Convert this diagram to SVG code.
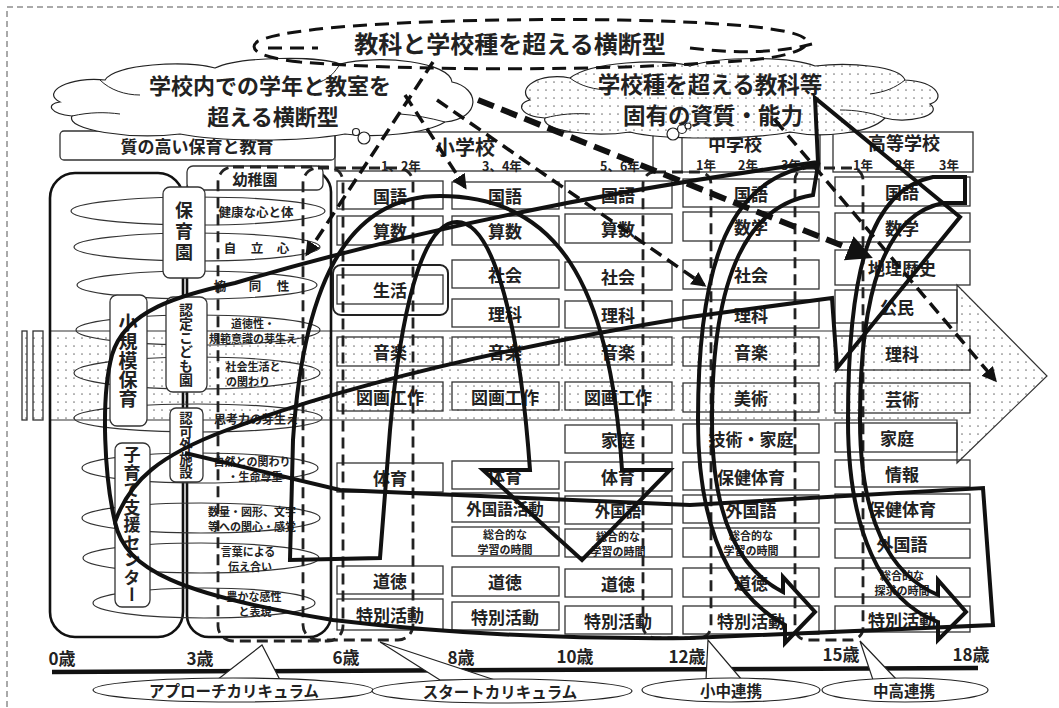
<svg xmlns="http://www.w3.org/2000/svg" width="1059" height="708" viewBox="0 0 1059 708">
<defs>
<pattern id="dots" width="8" height="8" patternUnits="userSpaceOnUse"><rect width="8" height="8" fill="#fff"/><circle cx="2" cy="2" r="0.85" fill="#777"/></pattern>
<marker id="ah" viewBox="0 0 10 10" refX="8" refY="5" markerWidth="15" markerHeight="15" markerUnits="userSpaceOnUse" orient="auto"><path d="M0,0 L10,5 L0,10 z" fill="#111"/></marker>
<marker id="ahB" viewBox="0 0 10 10" refX="8" refY="5" markerWidth="26" markerHeight="26" markerUnits="userSpaceOnUse" orient="auto"><path d="M0,0 L10,5 L0,10 z" fill="#111"/></marker>
<style>
.t{font-family:"Noto Sans CJK JP","Noto Sans",sans-serif;font-weight:700;fill:#222;text-anchor:middle;dominant-baseline:central}
.v{font-family:"Noto Sans CJK JP","Noto Sans",sans-serif;font-weight:700;fill:#222;text-anchor:middle;writing-mode:vertical-rl}
.box{fill:none;stroke:#333;stroke-width:1.3}
.lbl{fill:#fff;stroke:#333;stroke-width:1.3}
.ell{fill:none;stroke:#333;stroke-width:1.2}
.thick{fill:none;stroke:#111;stroke-width:4;stroke-linejoin:miter}
.dash{fill:none;stroke:#111;stroke-width:3.5;stroke-dasharray:13 7}
.dbox{fill:none;stroke:#222;stroke-width:2.8;stroke-dasharray:11 6}
.thin{fill:#fff;stroke:#222;stroke-width:1.2}
.s17{font-size:17px}.s16{font-size:15.5px}.s12{font-size:12px}.s11{font-size:11px}.s13{font-size:12.5px}
.cl{font-size:22px}
</style>
</defs>
<rect width="1059" height="708" fill="#fff"/>
<rect x="7" y="7" width="1060" height="710" fill="none" stroke="#555" stroke-width="1" stroke-dasharray="6 4"/>

<g id="band">
<path d="M50,331 L957,331 L957,285 L1047,376 L957,463 L957,420 L50,420 Z" fill="url(#dots)" stroke="#333" stroke-width="1.2"/>
<rect x="22" y="331" width="5" height="89" fill="url(#dots)" stroke="#333" stroke-width="1.3"/>
<rect x="33" y="331" width="10" height="89" fill="url(#dots)" stroke="#333" stroke-width="1.3"/>
</g>

<g id="header-boxes">
<rect x="60" y="131" width="275" height="29" rx="4" class="box"/>
<text x="197" y="145" class="t s17">質の高い保育と教育</text>
<rect x="335" y="132" width="318" height="39" class="box"/>
<text x="465" y="146" class="t" style="font-size:20px">小学校</text>
<text x="401" y="165" class="t s13">1、2年</text>
<text x="502" y="165" class="t s13">3、4年</text>
<text x="620" y="165" class="t s13">5、6年</text>
<rect x="682" y="132" width="138" height="40" class="box"/>
<text x="735" y="143" class="t" style="font-size:18px">中学校</text>
<text x="706" y="164" class="t s13">1年</text>
<text x="748" y="164" class="t s13">2年</text>
<text x="791" y="164" class="t s13">3年</text>
<rect x="833" y="132" width="140" height="40" class="box"/>
<text x="904" y="142" class="t" style="font-size:18px">高等学校</text>
<text x="863" y="164" class="t s13">1年</text>
<text x="905" y="164" class="t s13">2年</text>
<text x="949" y="164" class="t s13">3年</text>
</g>

<g id="cloud-left">
<path d="M60,102 C40,92 70,76 105,80 C115,64 185,60 215,68 C240,56 320,56 340,64 C380,54 450,62 452,82 C480,88 482,118 445,122 C425,134 375,138 345,134 C300,142 220,142 180,134 C130,140 65,130 72,116 C50,114 45,104 60,102 Z" class="thin"/>
<path d="M100,80 C110,90 125,95 140,95 M340,64 C335,72 330,78 320,82 M445,122 C430,118 415,115 400,114 M72,116 C90,112 105,112 120,114" fill="none" stroke="#222" stroke-width="1"/>
<circle cx="356" cy="132" r="3.5" class="thin"/>
<circle cx="364" cy="138" r="6" class="thin"/>
<text x="270" y="84" class="t cl">学校内での学年と教室を</text>
<text x="273" y="115" class="t cl">超える横断型</text>
</g>

<g id="cloud-right">
<path d="M530,100 C515,88 540,72 570,78 C590,62 660,58 690,66 C720,56 790,56 815,66 C850,62 900,66 905,80 C940,82 945,100 930,104 C945,116 905,124 885,118 C870,134 820,138 790,132 C750,140 660,140 630,132 C590,138 540,130 545,118 C520,116 515,104 530,100 Z" fill="url(#dots)" stroke="#222" stroke-width="1.2"/>
<path d="M570,78 C580,86 595,90 610,90 M905,80 C895,88 885,92 870,94 M545,118 C560,114 575,113 590,114 M885,118 C870,112 855,110 840,110" fill="none" stroke="#222" stroke-width="1"/>
<circle cx="673" cy="134" r="6" class="thin"/>
<circle cx="682" cy="129" r="4.5" class="thin"/>
<circle cx="688" cy="126" r="3" class="thin"/>
<text x="710" y="83" class="t" style="font-size:22.5px">学校種を超える教科等</text>
<text x="713" y="114" class="t" style="font-size:22.5px">固有の資質・能力</text>
</g>

<g id="cloud-top">
<path d="M300,62 C262,58 246,50 258,41 C300,22 500,18 620,20 C720,22 800,28 806,40 C812,50 780,60 720,62 C620,70 420,72 300,62" fill="none" stroke="#111" stroke-width="3" stroke-dasharray="14 8"/>
<path d="M268,48 L318,48 M690,48 C730,53 775,54 812,44" fill="none" stroke="#111" stroke-width="3" stroke-dasharray="14 8"/>
<text x="510" y="42" class="t" style="font-size:24px">教科と学校種を超える横断型</text>
</g>

<g id="early-childhood">
<rect x="50" y="173" width="133" height="464" rx="25" fill="none" stroke="#111" stroke-width="2.6"/>
<rect x="187" y="170" width="144" height="467" rx="22" fill="none" stroke="#111" stroke-width="2.6"/>
<ellipse cx="198" cy="211" rx="127" ry="14" class="ell"/>
<ellipse cx="197" cy="247" rx="123" ry="14" class="ell"/>
<ellipse cx="197" cy="285" rx="120" ry="14" class="ell"/>
<ellipse cx="198" cy="330" rx="122" ry="15" class="ell"/>
<ellipse cx="197" cy="373" rx="123" ry="16" class="ell"/>
<ellipse cx="198" cy="418" rx="124" ry="14" class="ell"/>
<ellipse cx="200" cy="468" rx="118" ry="15" class="ell"/>
<ellipse cx="201" cy="518" rx="119" ry="15" class="ell"/>
<ellipse cx="201" cy="558" rx="118" ry="15" class="ell"/>
<ellipse cx="204" cy="603" rx="111" ry="15" class="ell"/>
<text x="256" y="211" class="t" style="font-size:12.5px">健康な心と体</text>
<text x="230 257 283" y="247" class="t" style="font-size:12.5px">自立心</text>
<text x="220 255 283" y="285" class="t" style="font-size:12.5px">協同性</text>
<text x="253" y="323" class="t s11">道徳性・</text>
<text x="253" y="338" class="t s11">規範意識の芽生え</text>
<text x="253" y="366" class="t s11">社会生活と</text>
<text x="248" y="381" class="t s11">の関わり</text>
<text x="256" y="418" class="t s12">思考力の芽生え</text>
<text x="252" y="461" class="t s11">自然との関わり</text>
<text x="255" y="476" class="t s11">・生命尊重</text>
<text x="252" y="511" class="t s11">数量・図形、文字</text>
<text x="252" y="526" class="t s11">等への関心・感覚</text>
<text x="248" y="551" class="t s11">言葉による</text>
<text x="250" y="566" class="t s11">伝え合い</text>
<text x="254" y="596" class="t s11">豊かな感性</text>
<text x="255" y="611" class="t s11">と表現</text>
</g>

<g id="label-youchien"><rect x="187" y="166" width="136" height="24" rx="6" class="lbl"/><text x="255" y="178" class="t" style="font-size:15px">幼稚園</text></g>
<g id="label-hoikuen"><rect x="163" y="187" width="42" height="91" rx="7" class="lbl"/><text x="184" y="233" class="v" style="font-size:18px;letter-spacing:3px">保育園</text></g>
<g id="label-shokibo"><rect x="110" y="295" width="37" height="131" rx="7" class="lbl"/><text x="128" y="361" class="v" style="font-size:19px">小規模保育</text></g>
<g id="label-nintei"><rect x="166" y="297" width="41" height="95" rx="7" class="lbl"/><text x="186" y="345" class="v" style="font-size:14px">認定こども園</text></g>
<g id="label-ninkagai"><rect x="170" y="408" width="33" height="74" rx="6" class="lbl"/><text x="186" y="445" class="v" style="font-size:13.5px">認可外施設</text></g>
<g id="label-kosodate"><rect x="115" y="443" width="35" height="164" rx="7" class="lbl"/><text x="132" y="525" class="v" style="font-size:17px;letter-spacing:0.5px">子育て支援センター</text></g>

<g id="elementary-12">
<rect x="337" y="181" width="106" height="28" class="box"/><text x="390" y="195" class="t s17">国語</text>
<rect x="337" y="216" width="106" height="29" class="box"/><text x="390" y="230.5" class="t s17">算数</text>
<rect x="333" y="265" width="115" height="50" rx="8" fill="none" stroke="#222" stroke-width="2"/>
<rect x="337" y="275" width="106" height="29" class="box"/><text x="390" y="289.5" class="t s17">生活</text>
<rect x="337" y="337" width="106" height="29" class="box"/><text x="390" y="351.5" class="t s17">音楽</text>
<rect x="337" y="382" width="106" height="29" class="box"/><text x="390" y="396.5" class="t s17">図画工作</text>
<rect x="337" y="463" width="106" height="29" class="box"/><text x="390" y="477.5" class="t s17">体育</text>
<rect x="337" y="566" width="106" height="28" class="box"/><text x="390" y="580" class="t s17">道徳</text>
<rect x="337" y="599" width="106" height="31" class="box"/><text x="390" y="614.5" class="t s17">特別活動</text>
</g>

<g id="elementary-34">
<rect x="452" y="182" width="107" height="27" class="box"/><text x="505" y="195.5" class="t s17">国語</text>
<rect x="452" y="216" width="107" height="29" class="box"/><text x="505" y="230.5" class="t s17">算数</text>
<rect x="452" y="260" width="107" height="28" class="box"/><text x="505" y="274" class="t s17">社会</text>
<rect x="452" y="299" width="107" height="28" class="box"/><text x="505" y="313" class="t s17">理科</text>
<rect x="452" y="337" width="107" height="28" class="box"/><text x="505" y="351" class="t s17">音楽</text>
<rect x="452" y="382" width="107" height="28" class="box"/><text x="505" y="396" class="t s17">図画工作</text>
<rect x="452" y="461" width="107" height="28" class="box"/><text x="505" y="475" class="t s17">体育</text>
<rect x="452" y="493" width="107" height="29" class="box"/><text x="505" y="507.5" class="t s16">外国語活動</text>
<rect x="452" y="527" width="107" height="29" class="box"/><text x="505" y="534" class="t s11">総合的な</text><text x="505" y="549" class="t s11">学習の時間</text>
<rect x="452" y="567" width="107" height="29" class="box"/><text x="505" y="581.5" class="t s17">道徳</text>
<rect x="452" y="602" width="107" height="28" class="box"/><text x="505" y="616" class="t s17">特別活動</text>
</g>

<g id="elementary-56">
<rect x="565" y="181" width="107" height="27" class="box"/><text x="618" y="194.5" class="t s17">国語</text>
<rect x="565" y="214" width="107" height="29" class="box"/><text x="618" y="228.5" class="t s17">算数</text>
<rect x="565" y="262" width="107" height="28" class="box"/><text x="618" y="276" class="t s17">社会</text>
<rect x="565" y="301" width="107" height="27" class="box"/><text x="618" y="314.5" class="t s17">理科</text>
<rect x="565" y="337" width="107" height="28" class="box"/><text x="618" y="351" class="t s17">音楽</text>
<rect x="565" y="382" width="107" height="28" class="box"/><text x="618" y="396" class="t s17">図画工作</text>
<rect x="565" y="425" width="107" height="28" class="box"/><text x="618" y="439" class="t s17">家庭</text>
<rect x="565" y="462" width="107" height="29" class="box"/><text x="618" y="476.5" class="t s17">体育</text>
<rect x="565" y="496" width="107" height="28" class="box"/><text x="618" y="510" class="t s16">外国語</text>
<rect x="565" y="529" width="107" height="28" class="box"/><text x="618" y="535.5" class="t s11">総合的な</text><text x="618" y="550.5" class="t s11">学習の時間</text>
<rect x="565" y="569" width="107" height="28" class="box"/><text x="618" y="583" class="t s17">道徳</text>
<rect x="565" y="606" width="107" height="28" class="box"/><text x="618" y="620" class="t s17">特別活動</text>
</g>

<g id="junior-high">
<rect x="683" y="179" width="136" height="28" class="box"/><text x="751" y="193" class="t s17">国語</text>
<rect x="683" y="212" width="136" height="29" class="box"/><text x="751" y="226.5" class="t s17">数学</text>
<rect x="683" y="260" width="136" height="29" class="box"/><text x="751" y="274.5" class="t s17">社会</text>
<rect x="683" y="300" width="136" height="28" class="box"/><text x="751" y="314" class="t s17">理科</text>
<rect x="683" y="337" width="136" height="29" class="box"/><text x="751" y="351.5" class="t s17">音楽</text>
<rect x="683" y="383" width="136" height="29" class="box"/><text x="751" y="397.5" class="t s17">美術</text>
<rect x="683" y="424" width="136" height="29" class="box"/><text x="751" y="438.5" class="t s17">技術・家庭</text>
<rect x="683" y="462" width="136" height="28" class="box"/><text x="751" y="476" class="t s17">保健体育</text>
<rect x="683" y="495" width="136" height="28" class="box"/><text x="751" y="509" class="t s17">外国語</text>
<rect x="683" y="528" width="136" height="29" class="box"/><text x="751" y="535" class="t s11">総合的な</text><text x="751" y="550" class="t s11">学習の時間</text>
<rect x="683" y="568" width="136" height="29" class="box"/><text x="751" y="582.5" class="t s17">道徳</text>
<rect x="683" y="606" width="136" height="28" class="box"/><text x="751" y="620" class="t s17">特別活動</text>
</g>

<g id="high-school">
<rect x="835" y="177" width="135" height="29" class="box"/><text x="902" y="191.5" class="t s17">国語</text>
<rect x="835" y="213" width="135" height="29" class="box"/><text x="902" y="227.5" class="t s17">数学</text>
<rect x="835" y="250" width="135" height="35" class="box"/><text x="902" y="267.5" class="t s17">地理歴史</text>
<rect x="835" y="290" width="122" height="33" class="box"/><text x="897" y="306.5" class="t s17">公民</text>
<rect x="835" y="336" width="135" height="34" class="box"/><text x="902" y="353" class="t s17">理科</text>
<rect x="835" y="383" width="135" height="30" class="box"/><text x="902" y="398" class="t s17">芸術</text>
<rect x="835" y="423" width="122" height="29" class="box"/><text x="897" y="437.5" class="t s17">家庭</text>
<rect x="835" y="460" width="135" height="27" class="box"/><text x="902" y="473.5" class="t s17">情報</text>
<rect x="835" y="494" width="135" height="29" class="box"/><text x="902" y="508.5" class="t s17">保健体育</text>
<rect x="835" y="529" width="135" height="29" class="box"/><text x="902" y="543.5" class="t s17">外国語</text>
<rect x="835" y="568" width="135" height="29" class="box"/><text x="902" y="575" class="t s11">総合的な</text><text x="902" y="590" class="t s11">探求の時間</text>
<rect x="835" y="606" width="135" height="26" class="box"/><text x="902" y="619" class="t s17">特別活動</text>
</g>

<g id="curriculum-brackets">
<rect x="218" y="167" width="125" height="474" rx="15" class="dbox"/>
<rect x="303" y="168" width="110" height="472" rx="15" class="dbox"/>
<rect x="643" y="172" width="68" height="466" rx="12" class="dbox"/>
<rect x="795" y="168" width="68" height="472" rx="12" class="dbox"/>
</g>

<g id="connectors">
<path class="thick" d="M380,558 L390,430 C400,320 420,222 457,222 C495,222 520,330 530,470 L483,470 L582,560 L670,470 L622,470 C610,280 555,196 440,196 C360,196 305,260 293,440 L290,560 Z"/>
<path class="thick" d="M785,625 C740,600 698,545 698,420 C698,260 730,175 818,165 L813,195 C750,205 712,270 712,420 C712,520 740,570 783,592 L783,577 L815,612 L785,643 Z"/>
<path class="thick" d="M938,622 C880,600 848,530 848,420 C848,270 870,190 933,177 L965,177 L965,203 L943,203 C885,215 860,290 860,420 C860,520 890,575 938,595 L938,580 L966,612 L938,640 Z"/>
<path class="thick" d="M115,522 C105,480 100,400 112,355 C125,310 180,295 235,283 Q500,205 818,162 L815,98 L960,217 L837,368 L832,298 L690,317 Q400,365 227,430 C160,455 130,480 115,522 Z"/>
<path class="thick" d="M115,522 C125,570 180,595 333,620 Q500,640 690,638 L993,625 L983,488 L690,505 L340,490 L185,453"/>
<path class="dash" d="M433,62 L307,254" marker-end="url(#ah)"/>
<path class="dash" d="M405,95 L465,187" marker-end="url(#ah)"/>
<path class="dash" d="M437,100 L704,285" marker-end="url(#ah)"/>
<path class="dash" d="M775,120 L995,380" marker-end="url(#ah)"/>
<path d="M478,100 L868,256" fill="none" stroke="#111" stroke-width="6" stroke-dasharray="17 8" marker-end="url(#ahB)"/>
</g>

<g id="age-axis">
<line x1="52" y1="672" x2="978" y2="668" stroke="#111" stroke-width="4.5"/>
<text x="62" y="657" class="t s17">0歳</text>
<text x="200" y="657" class="t s17">3歳</text>
<text x="346" y="656" class="t s17">6歳</text>
<text x="461" y="656" class="t s17">8歳</text>
<text x="575" y="655" class="t s17">10歳</text>
<text x="687" y="655" class="t s17">12歳</text>
<text x="841" y="653" class="t s17">15歳</text>
<text x="971" y="653" class="t s17">18歳</text>
</g>

<g id="callout-approach">
<polygon points="217,680 262,645 280,680" class="thin"/>
<ellipse cx="233" cy="690" rx="140" ry="12" class="thin"/>
<text x="234" y="690" class="t" style="font-size:15.5px">アプローチカリキュラム</text>
</g>
<g id="callout-start">
<polygon points="440,680 380,642 495,680" class="thin"/>
<ellipse cx="502" cy="691" rx="130" ry="12" class="thin"/>
<text x="500" y="691" class="t" style="font-size:15.5px">スタートカリキュラム</text>
</g>
<g id="callout-shochu">
<polygon points="708,640 706,680 742,680" class="thin"/>
<ellipse cx="731" cy="690" rx="89" ry="12" class="thin"/>
<text x="731" y="690" class="t" style="font-size:15.5px">小中連携</text>
</g>
<g id="callout-chuko">
<polygon points="860,641 873,680 897,680" class="thin"/>
<ellipse cx="905" cy="690" rx="83" ry="12" class="thin"/>
<text x="904" y="690" class="t" style="font-size:15.5px">中高連携</text>
</g>
</svg>
